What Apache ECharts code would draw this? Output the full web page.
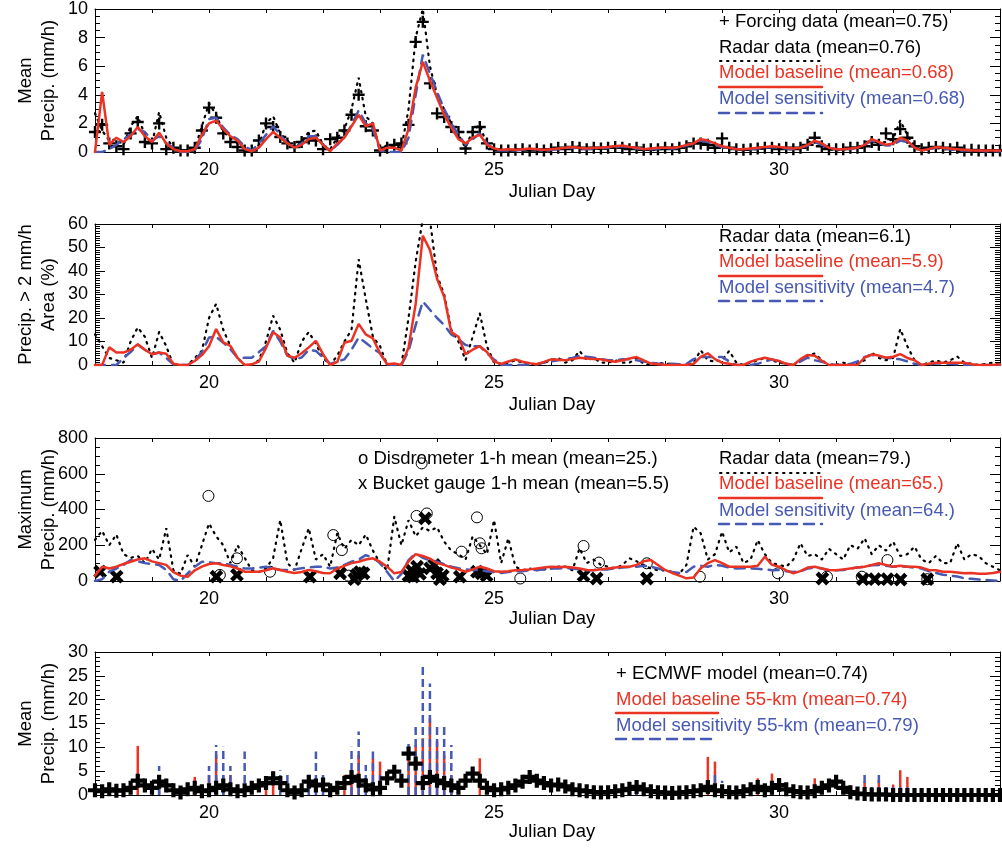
<!DOCTYPE html>
<html>
<head>
<meta charset="utf-8">
<script src="https://cdn.jsdelivr.net/npm/echarts@6/dist/echarts.min.js"></script>
<style>
  html, body { margin: 0; padding: 0; background: #fff; }
  #chart { width: 1002px; height: 848px; }
</style>
</head>
<body>
<div id="chart"></div>
<script>
// 3-hourly samples, Julian day 18.000 .. 33.875 (one row = one day)
const startDay = 18;
const stepDay = 0.125;

// ---- panel 1: mean precip (mm/h)
const meanForcing = [
  1.4, 1.9, 0.6, 0.4, 0.2, 1.3, 2.1, 0.7,
  0.6, 2.0, 0.2, 0.3, 0.1, 0.1, 0.3, 1.5,
  3.1, 2.4, 1.3, 0.7, 0.35, 0.1, 0.1, 0.8,
  2.0, 1.75, 1.05, 0.6, 0.35, 0.7, 0.95, 0.8,
  0.2, 0.9, 1.0, 1.5, 2.6, 4.0, 1.8, 1.5,
  0.1, 0.3, 0.5, 0.6, 1.9, 7.7, 9.1, 4.8,
  2.7, 2.45, 1.75, 1.4, 0.25, 1.4, 1.75, 0.6,
  0.2, 0.1, 0.1, 0.15, 0.2, 0.1, 0.2, 0.1,
  0.2, 0.3, 0.2, 0.35, 0.3, 0.2, 0.3, 0.25,
  0.3, 0.35, 0.3, 0.2, 0.3, 0.15, 0.2, 0.2,
  0.3, 0.2, 0.3, 0.4, 0.6, 0.6, 0.5, 0.3,
  0.95, 0.3, 0.2, 0.15, 0.2, 0.25, 0.3, 0.3,
  0.2, 0.3, 0.2, 0.3, 0.5, 1.0, 0.4, 0.2,
  0.2, 0.2, 0.3, 0.3, 0.4, 0.7, 0.5, 1.3,
  0.9, 1.6, 1.0, 0.4, 0.2, 0.3, 0.35, 0.3,
  0.2, 0.3, 0.1, 0.15, 0.1, 0.1, 0.1, 0.1
];
const meanRadar = [
  2.7, 1.5, 0.8, 0.9, 0.5, 1.8, 2.5, 1.2,
  0.6, 2.8, 1.0, 0.3, 0, 0.1, 0.2, 1.8,
  3.4, 2.6, 1.4, 1.0, 0.6, 0.2, 0, 0.5,
  2.0, 2.5, 1.3, 0.8, 0.3, 0.7, 1.4, 1.5,
  0.5, 0.2, 1.0, 1.6, 3.0, 5.2, 2.5, 2.0,
  0.1, 0.5, 0.4, 0.3, 3.0, 8.0, 10.0, 6.0,
  4.0, 3.0, 2.0, 1.2, 0.3, 1.5, 1.9, 0.5,
  0.2, 0.1, 0.1, 0.2, 0.1, 0.2, 0.1, 0.1,
  0.2, 0.3, 0.2, 0.3, 0.4, 0.2, 0.3, 0.2,
  0.3, 0.4, 0.3, 0.2, 0.3, 0.2, 0.1, 0.2,
  0.2, 0.3, 0.3, 0.4, 0.6, 0.8, 0.6, 0.4,
  0.5, 0.3, 0.2, 0.1, 0.2, 0.2, 0.3, 0.3,
  0.3, 0.2, 0.2, 0.3, 0.6, 1.0, 0.5, 0.2,
  0.1, 0.2, 0.2, 0.3, 0.5, 0.8, 0.6, 0.7,
  0.9, 2.2, 1.2, 0.4, 0.1, 0.2, 0.3, 0.2,
  0.2, 0.1, 0.1, 0.1, 0, 0.1, 0, 0
];
const meanBase = [
  0, 4.2, 0.5, 1.0, 0.7, 1.1, 1.75, 1.1,
  0.7, 1.35, 0.6, 0.2, 0.05, 0.05, 0.2, 1.2,
  2.0, 2.2, 1.6, 1.1, 0.8, 0.2, 0.05, 0.3,
  0.9, 1.4, 1.0, 0.6, 0.3, 0.5, 0.9, 1.0,
  0.5, 0.05, 0.6, 1.0, 1.8, 2.6, 1.8, 2.0,
  0.1, 0.3, 0.3, 0.1, 1.6, 4.5, 6.3, 5.0,
  3.8, 2.6, 1.7, 0.9, 0.6, 1.0, 1.2, 0.5,
  0.25, 0.15, 0.2, 0.15, 0.2, 0.25, 0.2, 0.15,
  0.2, 0.25, 0.3, 0.35, 0.3, 0.25, 0.3, 0.3,
  0.35, 0.4, 0.45, 0.35, 0.3, 0.2, 0.25, 0.3,
  0.3, 0.3, 0.35, 0.5, 0.6, 0.9, 0.8, 0.6,
  0.4, 0.3, 0.2, 0.2, 0.25, 0.3, 0.35, 0.4,
  0.35, 0.3, 0.25, 0.3, 0.5, 0.8, 0.6, 0.3,
  0.2, 0.2, 0.25, 0.3, 0.5, 0.9, 0.7, 0.5,
  0.6, 1.0, 0.8, 0.3, 0.1, 0.2, 0.35, 0.3,
  0.25, 0.2, 0.15, 0.1, 0.1, 0.1, 0.1, 0.1
];
const meanSens = [
  0, 0, 0.2, 0.5, 0.9, 1.2, 1.6, 1.4,
  0.8, 1.1, 0.6, 0.3, 0, 0, 0.1, 0.9,
  2.3, 2.4, 1.7, 1.2, 0.9, 0.4, 0.1, 0.6,
  1.2, 1.8, 1.2, 0.6, 0.3, 0.6, 1.1, 1.1,
  0.5, 0.1, 0.5, 1.0, 1.9, 2.9, 2.0, 1.6,
  0.1, 0, 0, 0, 1.0, 4.0, 6.8, 5.5,
  4.2, 3.0, 2.0, 1.2, 0.5, 0.9, 1.3, 0.6,
  0.2, 0.1, 0.1, 0.1, 0.15, 0.2, 0.2, 0.1,
  0.15, 0.2, 0.3, 0.3, 0.25, 0.2, 0.25, 0.3,
  0.3, 0.35, 0.4, 0.3, 0.25, 0.2, 0.2, 0.25,
  0.3, 0.25, 0.3, 0.45, 0.6, 0.8, 0.7, 0.5,
  0.35, 0.25, 0.2, 0.2, 0.2, 0.25, 0.3, 0.35,
  0.3, 0.25, 0.2, 0.3, 0.45, 0.7, 0.5, 0.3,
  0.2, 0.2, 0.2, 0.3, 0.5, 0.8, 0.6, 0.45,
  0.5, 0.8, 0.7, 0.3, 0.1, 0.2, 0.3, 0.25,
  0.2, 0.15, 0.1, 0.1, 0.1, 0.05, 0.05, 0.05
];

// ---- panel 2: area with precip > 2 mm/h (%)
const areaRadar = [
  13, 8, 3, 2, 1, 10, 16, 12,
  3, 14, 8, 0, 0, 0, 3, 6,
  20, 26, 15, 8, 3, 0, 0, 2,
  10, 21, 15, 5, 1, 10, 14, 9,
  3, 0, 4, 10, 15, 45, 28, 12,
  8, 0, 0, 0, 20, 44, 62, 62,
  38, 30, 15, 10, 2, 12, 22, 8,
  1, 0.5, 1, 2, 1, 0, 0.5, 1,
  2, 3, 1, 2, 6, 2, 3, 1,
  1, 2, 1, 1, 3, 0.5, 0, 1,
  0.5, 0.5, 0, 0, 1, 6.3, 2, 1.5,
  2, 6, 1, 0, 1, 2, 3, 2,
  1, 0.5, 0, 2, 4, 4.9, 2, 0,
  0, 1, 0, 1, 2, 5.3, 3, 2,
  3, 15.3, 8, 2, 0, 1, 2, 1,
  2, 3.6, 1, 0.5, 0, 0.5, 1, 0
];
const areaBase = [
  0, 0, 7.5, 5.3, 5.3, 6.5, 8.8, 6.5,
  4.6, 5.3, 4.8, 0.5, 0, 0, 1.7, 4.2,
  8, 15.3, 9.6, 8.1, 3, 0, 0.3, 1.5,
  7.3, 13.9, 11.7, 4, 3.1, 5, 7.5, 10.3,
  4.6, 0, 1.3, 9.5, 10.3, 17.5, 13, 11.3,
  5, 0.3, 0.6, 0, 7.4, 26, 55, 49,
  36.7, 29, 14, 12, 4.6, 6.5, 8, 5.5,
  1.5, 0.5, 1.5, 2.4, 1.4, 0.8, 0.3, 1.3,
  2.4, 2.2, 2.0, 2.5, 3.1, 2.8, 2.5, 2.4,
  1.8, 1.4, 2, 2.8, 3.4, 2.0, 0.6, 0.3,
  0, 0, 0, 0, 0.5, 3.5, 5.0, 2.5,
  1, 0.5, 0, 0, 1.4, 2.4, 3.1, 2.4,
  1.7, 0.5, 0, 2.5, 4.3, 3.9, 1.8, 0,
  0, 0, 0, 0, 3.1, 4.5, 4.0, 3.1,
  3.5, 4.6, 3, 2, 0, 0.5, 1, 1,
  1, 1, 1, 0.3, 0, 0, 0, 0.3
];
const areaSens = [
  0, 0, 0, 0, 3.0, 5.5, 8.6, 6.5,
  4.6, 5.3, 3.0, 0.3, 0, 0, 2.0, 5.5,
  11.7, 12, 9.5, 6.7, 3.1, 3.1, 3.1, 5.5,
  8, 14.6, 10, 4, 2.6, 3.2, 6.5, 6,
  3.1, 0.5, 1.5, 2.4, 6.5, 11.7, 9.5, 7,
  5, 0.3, 0, 0, 6, 17, 27, 23.5,
  20, 17, 13, 11, 8.5, 8, 8, 5,
  2.4, 0, 0, 0, 0, 0.2, 0.3, 1.0,
  1.5, 2, 2.5, 3, 3.9, 3.5, 3.1, 2.5,
  2, 2, 2.5, 2.5, 2, 1.5, 1, 0.6,
  0.5, 0.5, 0.3, 0.5, 2.5, 3.4, 3.4, 3.4,
  3.4, 1.5, 0, 0, 0, 0.5, 1.5, 2.4,
  1.5, 0.5, 0, 1.5, 3.1, 2.0, 1.4, 0.5,
  0, 0, 0.5, 1.5, 3.4, 4.3, 3.8, 3.1,
  2.8, 2.4, 1.5, 0.5, 0, 0.3, 0.6, 0.6,
  0.5, 0.3, 0, 0, 0, 0, 0, 0
];

// ---- panel 3: maximum precip (mm/h)
const maxRadar = [
  230, 280, 200, 260, 150, 130, 140, 100,
  180, 120, 295, 60, 40, 145, 80, 200,
  322, 250, 200, 100, 200, 130, 60, 50,
  70, 130, 341, 100, 60, 180, 295, 120,
  150, 80, 267, 180, 230, 200, 260, 170,
  100, 60, 360, 200, 340, 250, 300, 280,
  300, 220, 170, 150, 120, 250, 200, 150,
  341, 100, 239, 80, 60, 70, 60, 65,
  70, 80, 80, 60, 183, 100, 120, 90,
  80, 70, 90, 127, 110, 90, 70, 60,
  60, 50, 40, 90, 304, 267, 120, 150,
  276, 160, 192, 100, 120, 229, 150, 100,
  90, 80, 120, 211, 140, 150, 120, 180,
  150, 120, 201, 180, 239, 150, 200, 170,
  220, 140, 150, 192, 120, 100, 140, 100,
  100, 211, 120, 150, 140, 100, 80, 60
];
const maxBase = [
  30, 80, 70, 80, 95, 108, 120, 127,
  110, 100, 90, 50, 30, 24, 60, 80,
  95, 99, 90, 82, 70, 52, 52, 52,
  60, 71, 62, 52, 45, 50, 62, 55,
  45, 43, 70, 85, 100, 108, 120, 127,
  108, 80, 43, 50, 110, 150, 140, 125,
  100, 90, 75, 65, 52, 65, 80, 70,
  55, 52, 55, 60, 62, 65, 70, 75,
  80, 78, 80, 75, 70, 62, 60, 65,
  70, 75, 80, 80, 90, 110, 117, 90,
  62, 45, 30, 15, 20, 71, 100, 117,
  100, 80, 80, 80, 80, 85, 136, 90,
  80, 60, 43, 55, 75, 80, 70, 62,
  60, 65, 70, 75, 80, 90, 99, 90,
  80, 85, 80, 80, 75, 62, 60, 52,
  52, 48, 43, 45, 40, 40, 45, 52
];
const maxSens = [
  0, 10, 52, 70, 90, 117, 110, 100,
  95, 90, 62, 10, 0, 43, 80, 108,
  105, 100, 99, 90, 80, 70, 70, 75,
  80, 70, 62, 62, 65, 71, 75, 80,
  80, 70, 75, 90, 108, 120, 145, 130,
  100, 50, 0, 40, 117, 155, 130, 115,
  108, 95, 80, 71, 65, 62, 60, 55,
  50, 45, 50, 55, 55, 60, 62, 65,
  70, 70, 72, 70, 65, 60, 62, 65,
  65, 70, 75, 78, 80, 85, 80, 70,
  60, 50, 45, 50, 80, 85, 80, 90,
  85, 75, 70, 72, 70, 68, 65, 60,
  62, 55, 50, 55, 70, 75, 70, 60,
  60, 62, 70, 75, 80, 88, 90, 85,
  80, 82, 80, 75, 70, 55, 45, 35,
  30, 25, 15, 12, 8, 6, 3, 0
];
const disdroDays = [19.99, 20.19, 20.49, 21.07, 22.18, 22.33, 22.45, 23.64, 23.73, 23.82, 24.43, 24.70, 24.75, 24.78, 25.46, 26.57, 26.84, 27.68, 28.61, 29.98, 30.84, 31.45, 31.90, 32.60];
const disdroVals = [476, 34, 127, 52, 257, 173, 30, 364, 658, 378, 164, 356, 211, 183, 14, 196, 103, 99, 24, 43, 24, 24, 117, 10];
const bucketDays = [18.09, 18.38, 20.13, 20.49, 21.77, 22.30, 22.55, 22.59, 22.65, 22.71, 23.50, 23.55, 23.58, 23.65, 23.70, 23.79, 23.88, 23.95, 24.00, 24.05, 24.10, 24.40, 24.70, 24.78, 24.87, 26.57, 26.80, 27.68, 30.76, 31.47, 31.68, 31.90, 32.13, 32.60];
const bucketVals = [52, 24, 24, 34, 24, 43, 10, 34, 50, 43, 30, 60, 24, 80, 40, 350, 71, 90, 43, 10, 30, 24, 52, 43, 30, 30, 14, 14, 14, 10, 10, 10, 8, 10];

// ---- panel 4: mean precip, 55-km
const ecmwf = [
  1.0, 0.8, 1.2, 0.9, 1.0, 1.5, 3.0, 2.0,
  1.5, 2.8, 2.0, 1.0, 0.5, 1.2, 1.5, 0.8,
  1.0, 1.5, 2.0, 1.2, 0.8, 1.0, 1.5, 2.0,
  2.5, 3.5, 2.5, 1.0, 0.5, 1.0, 2.8, 2.0,
  2.2, 1.0, 1.5, 2.5, 3.8, 3.0, 2.0, 1.2,
  1.5, 3.5, 4.9, 3.0, 8.7, 6.6, 2.5, 3.8,
  3.0, 2.5, 2.0, 1.5, 3.0, 4.5, 3.0, 1.5,
  1.0, 1.2, 1.5, 2.0, 2.8, 3.8, 3.0, 2.5,
  2.0, 2.2, 1.8, 1.2, 1.0, 0.8, 0.6, 0.5,
  0.6, 0.8, 1.0, 1.3, 1.7, 1.2, 0.8, 0.6,
  0.5, 0.4, 0.5, 0.6, 0.8, 1.0, 1.7, 1.0,
  0.8, 0.6, 0.5, 0.8, 1.2, 1.7, 1.0, 1.5,
  2.1, 1.2, 0.8, 0.6, 0.5, 0.8, 1.5, 2.0,
  2.8, 1.5, 0.6, 0.3, 0.2, 0.1, 0.1, 0.1,
  0, 0, 0, 0, 0, 0, 0, 0,
  0, 0, 0, 0, 0, 0, 0, 0
];
const base55Days = [18.75, 19.125, 19.75, 20.0, 20.125, 20.25, 20.375, 21.0, 21.125, 22.375, 22.5, 22.625, 22.875, 23.0, 23.5, 23.625, 23.75, 23.875, 24.0, 24.125, 24.25, 24.75, 27.375, 27.5, 28.75, 28.875, 29.625, 29.875, 30.625, 31.5, 31.75, 32.0, 32.125, 32.25];
const base55Vals = [10.3, 4.0, 3.8, 4.2, 8.4, 4.2, 4.2, 3.8, 4.9, 4.2, 5.0, 8.4, 7.7, 7.0, 8.7, 10.5, 11.9, 16.1, 11.2, 8.4, 4.2, 7.7, 2.4, 2.0, 8.0, 7.0, 3.5, 4.5, 3.5, 2.8, 3.1, 2.2, 5.2, 3.8];
const sens55Days = [19.125, 19.875, 20.0, 20.125, 20.25, 20.375, 20.625, 21.25, 21.375, 21.75, 21.875, 22.0, 22.5, 22.625, 22.75, 22.875, 23.0, 23.5, 23.625, 23.75, 23.875, 24.0, 24.125, 24.25, 27.25, 27.5, 27.75, 28.0, 28.25, 28.875, 29.0, 29.5, 30.5, 31.375, 31.5, 31.625, 31.75, 31.875, 32.0, 32.125, 32.25, 32.375];
const sens55Vals = [6.1, 1.5, 6.1, 10.5, 10.1, 6.1, 9.1, 5.2, 4.8, 4.9, 9.1, 4.9, 10.1, 13.3, 6.3, 9.1, 5.0, 10.7, 15.0, 27.6, 23.4, 15.0, 14.7, 10.5, 1.7, 1.7, 1.5, 1.7, 1.5, 4.9, 3.0, 1.5, 1.8, 1.7, 4.5, 1.7, 4.9, 1.8, 1.7, 1.8, 1.6, 1.4];

const RED = '#ea3323';
const BLUE = '#4659b4';
const FONT = '"Liberation Sans", Arial, Helvetica, sans-serif';
const PLUS = 'path://M4,0H6V4H10V6H6V10H4V6H0V4H4Z';
const PLUS_BOLD = 'path://M3.5,0H6.5V3.5H10V6.5H6.5V10H3.5V6.5H0V3.5H3.5Z';

function timed(vals) { return vals.map((v, i) => [startDay + i * stepDay, v]); }
function zip(xs, ys) { return xs.map((x, i) => [x, ys[i]]); }

const panels = [
  { top: 9, height: 143, max: 10, interval: 2, minor: 4 },
  { top: 224, height: 141, max: 60, interval: 10, minor: 10 },
  { top: 438, height: 143, max: 800, interval: 200, minor: 4 },
  { top: 652, height: 143, max: 30, interval: 5, minor: 5 }
];

const grids = [], xAxes = [], yAxes = [];
panels.forEach((p, k) => {
  grids.push({ left: 95, right: 2, top: p.top, height: p.height, outerBoundsMode: 'none' });
  const xBase = {
    gridIndex: k, type: 'value', min: 18, max: 33.875, interval: 1,
    axisLine: { onZero: false, lineStyle: { color: '#000', width: 1 } },
    axisTick: { inside: true, length: 4, lineStyle: { color: '#000' } },
    splitLine: { show: false }
  };
  xAxes.push(Object.assign({}, xBase, {
    position: 'bottom',
    axisLabel: {
      color: '#000', fontSize: 18, fontFamily: FONT, margin: 9,
      formatter: v => (v % 5 === 0 ? String(v) : '')
    }
  }));
  xAxes.push(Object.assign({}, xBase, { position: 'top', axisLabel: { show: false } }));
  const yBase = {
    gridIndex: k, type: 'value', min: 0, max: p.max, interval: p.interval,
    axisLine: { show: true, onZero: false, lineStyle: { color: '#000', width: 1 } },
    axisTick: { show: true, inside: true, length: 10, lineStyle: { color: '#000' } },
    minorTick: { show: true, splitNumber: p.minor, length: 5, lineStyle: { color: '#000' } },
    splitLine: { show: false }
  };
  yAxes.push(Object.assign({}, yBase, {
    position: 'left',
    axisLabel: { color: '#000', fontSize: 18, fontFamily: FONT, margin: 7 }
  }));
  yAxes.push(Object.assign({}, yBase, { position: 'right', axisLabel: { show: false } }));
});

function line(k, data, color, type, width) {
  return {
    type: 'line', xAxisIndex: 2 * k, yAxisIndex: 2 * k, data: data,
    symbol: 'none', silent: true, clip: true,
    lineStyle: { color: color, width: width, type: type, cap: 'round' }
  };
}
function marks(k, data, symbol, size, opts) {
  return Object.assign({
    type: 'scatter', xAxisIndex: 2 * k, yAxisIndex: 2 * k, data: data,
    symbol: symbol, symbolSize: size, silent: true,
    itemStyle: { color: '#000', opacity: 1 }
  }, opts || {});
}
function vbars(k, data, color, dash) {
  return {
    type: 'custom', xAxisIndex: 2 * k, yAxisIndex: 2 * k, data: data,
    silent: true, clip: true, encode: { x: 0, y: 1 },
    renderItem: (params, api) => {
      const a = api.coord([api.value(0), 0]);
      const b = api.coord([api.value(0), api.value(1)]);
      return {
        type: 'line',
        shape: { x1: a[0], y1: a[1], x2: b[0], y2: b[1] },
        style: { stroke: color, lineWidth: 2.5, lineDash: dash }
      };
    }
  };
}

const DOT = [1.5, 5.5];
const DASH = [10, 7];

const series = [
  line(0, timed(meanRadar), '#000', DOT, 2.2),
  line(0, timed(meanSens), BLUE, DASH, 2.5),
  line(0, timed(meanBase), RED, 'solid', 2.5),
  marks(0, timed(meanForcing), PLUS, 12),

  line(1, timed(areaRadar), '#000', DOT, 2.2),
  line(1, timed(areaSens), BLUE, DASH, 2.5),
  line(1, timed(areaBase), RED, 'solid', 2.5),

  line(2, timed(maxRadar), '#000', DOT, 2.2),
  line(2, timed(maxSens), BLUE, DASH, 2.5),
  line(2, timed(maxBase), RED, 'solid', 2.5),
  marks(2, zip(disdroDays, disdroVals), 'circle', 11,
    { itemStyle: { color: 'rgba(0,0,0,0)', borderColor: '#000', borderWidth: 1, opacity: 1 } }),
  marks(2, zip(bucketDays, bucketVals), PLUS_BOLD, 15, { symbolRotate: 45 }),

  vbars(3, zip(base55Days, base55Vals), RED, null),
  vbars(3, zip(sens55Days, sens55Vals), BLUE, [8, 4]),
  marks(3, timed(ecmwf), PLUS_BOLD, 14)
];

// text and legend decorations
const graphics = [];
function txt(x, y, s, color, rot) {
  graphics.push({
    type: 'text', x: x, y: y, rotation: rot || 0, silent: true,
    style: {
      text: s, fill: color || '#000', font: '18.5px ' + FONT,
      textAlign: rot ? 'center' : 'left', align: rot ? 'center' : 'left',
      textVerticalAlign: 'middle', verticalAlign: 'middle'
    }
  });
}
function seg(x1, x2, y, color, width, dash) {
  graphics.push({
    type: 'line', silent: true,
    shape: { x1: x1, y1: y, x2: x2, y2: y },
    style: { stroke: color, lineWidth: width, lineDash: dash, lineCap: 'round' }
  });
}
const yNames = [
  ['Mean', 'Precip. (mm/h)'],
  ['Precip. > 2 mm/h', 'Area (%)'],
  ['Maximum', 'Precip. (mm/h)'],
  ['Mean', 'Precip. (mm/h)']
];
const dayTitleY = [192, 405, 619, 832];
panels.forEach((p, k) => {
  const cy = p.top + p.height / 2;
  txt(26, cy, yNames[k][0], '#000', Math.PI / 2);
  txt(49, cy, yNames[k][1], '#000', Math.PI / 2);
  graphics.push({
    type: 'text', x: 552, y: dayTitleY[k], silent: true,
    style: { text: 'Julian Day', fill: '#000', font: '18.5px ' + FONT,
      textAlign: 'center', align: 'center', textVerticalAlign: 'middle', verticalAlign: 'middle' }
  });
});

// panel 1 legend
txt(719, 22, '+ Forcing data (mean=0.75)');
txt(719, 48, 'Radar data (mean=0.76)');
seg(720, 822, 61, '#000', 2, DOT);
txt(719, 73, 'Model baseline (mean=0.68)', RED);
seg(719, 822, 87, RED, 2.5, null);
txt(719, 99, 'Model sensitivity (mean=0.68)', BLUE);
seg(719, 822, 113, BLUE, 2.5, DASH);
// panel 2 legend
txt(719, 237, 'Radar data (mean=6.1)');
seg(720, 822, 250, '#000', 2, DOT);
txt(719, 262, 'Model baseline (mean=5.9)', RED);
seg(719, 822, 276, RED, 2.5, null);
txt(719, 288, 'Model sensitivity (mean=4.7)', BLUE);
seg(719, 822, 301, BLUE, 2.5, DASH);
// panel 3 legend
txt(358, 459, 'o Disdrometer 1-h mean (mean=25.)');
txt(358, 484, 'x Bucket gauge 1-h mean (mean=5.5)');
txt(719, 459, 'Radar data (mean=79.)');
seg(720, 822, 473, '#000', 2, DOT);
txt(719, 484, 'Model baseline (mean=65.)', RED);
seg(719, 822, 498, RED, 2.5, null);
txt(719, 511, 'Model sensitivity (mean=64.)', BLUE);
seg(719, 822, 524, BLUE, 2.5, DASH);
// panel 4 legend
txt(616, 674, '+ ECMWF model (mean=0.74)');
txt(616, 700, 'Model baseline 55-km (mean=0.74)', RED);
seg(616, 718, 713, RED, 2.5, null);
txt(616, 726, 'Model sensitivity 55-km (mean=0.79)', BLUE);
seg(616, 718, 739, BLUE, 2.5, DASH);

const chart = echarts.init(document.getElementById('chart'), null, { renderer: 'canvas' });
chart.setOption({
  animation: false,
  backgroundColor: '#fff',
  textStyle: { fontFamily: FONT },
  grid: grids,
  xAxis: xAxes,
  yAxis: yAxes,
  series: series,
  graphic: graphics
});
</script>
</body>
</html>
